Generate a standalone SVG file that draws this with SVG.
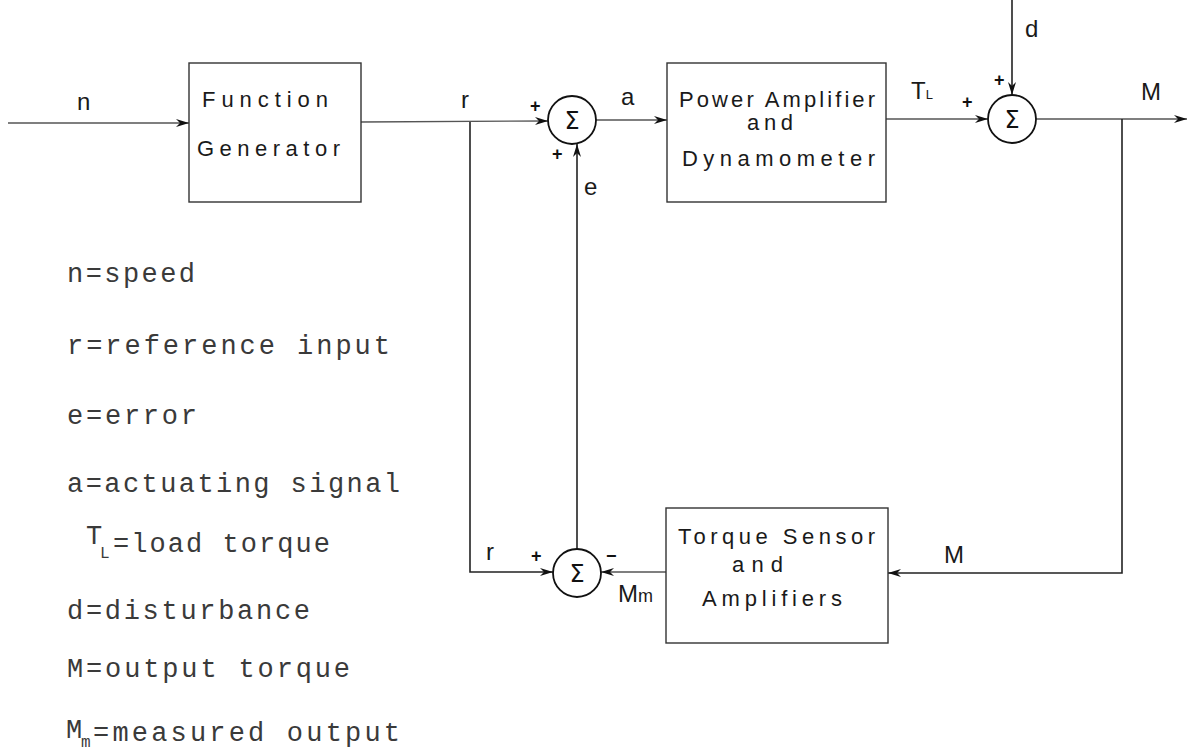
<svg xmlns="http://www.w3.org/2000/svg" width="1189" height="755" viewBox="0 0 1189 755">
  <style>
    .box { fill: none; stroke: #333; stroke-width: 1.4; }
    .sum { fill: none; stroke: #111; stroke-width: 1.8; }
    .wire { fill: none; stroke: #555; stroke-width: 1.3; }
    .vwire { fill: none; stroke: #222; stroke-width: 1.6; }
    .hand { font-family: "Liberation Sans", "DejaVu Sans", sans-serif; font-size: 22px; fill: #1a1a1a; }
    .sig { font-family: "Liberation Sans", "DejaVu Sans", sans-serif; font-size: 24px; fill: #1a1a1a; }
    .pm { font-family: "Liberation Sans", sans-serif; font-size: 18px; fill: #111; font-weight: bold; }
    .sigma { font-family: "DejaVu Sans", sans-serif; font-size: 24px; fill: #111; text-anchor: middle; }
    .legend { font-family: "Liberation Mono", "DejaVu Sans Mono", monospace; font-size: 27px; fill: #3a3a3a; }
    .legsub { font-family: "Liberation Mono", "DejaVu Sans Mono", monospace; font-size: 16px; fill: #3a3a3a; }
  </style>
  <defs>
    <marker id="arrow" markerWidth="14" markerHeight="10" refX="13" refY="5" orient="auto" markerUnits="userSpaceOnUse">
      <path d="M0,1 L13,5 L0,9 L4,5 z" fill="#111"/>
    </marker>
  </defs>

  <rect width="1189" height="755" fill="#ffffff"/>

  <!-- connectors -->
  <g id="connectors">
    <line class="wire" x1="8" y1="123" x2="189" y2="123" marker-end="url(#arrow)"/>
    <line class="wire" x1="361" y1="122" x2="548" y2="121" marker-end="url(#arrow)"/>
    <polyline class="vwire" points="470,122 470,572 553,572" marker-end="url(#arrow)"/>
    <line class="vwire" x1="577" y1="550" x2="577" y2="144" marker-end="url(#arrow)"/>
    <line class="wire" x1="596" y1="120" x2="667" y2="120" marker-end="url(#arrow)"/>
    <line class="wire" x1="886" y1="119" x2="988" y2="119" marker-end="url(#arrow)"/>
    <line class="vwire" x1="1012" y1="0" x2="1012" y2="95" marker-end="url(#arrow)"/>
    <line class="wire" x1="1036" y1="119" x2="1187" y2="119" marker-end="url(#arrow)"/>
    <polyline class="vwire" points="1122,119 1122,573 888,573" marker-end="url(#arrow)"/>
    <line class="wire" x1="666" y1="572" x2="601" y2="572" marker-end="url(#arrow)"/>
  </g>

  <!-- signal labels -->
  <g id="signal-labels">
    <text class="sig" x="77" y="110">n</text>
    <text class="sig" x="461" y="108">r</text>
    <text class="sig" x="621" y="105">a</text>
    <text class="sig" x="584" y="195">e</text>
    <text class="sig" x="911" y="99">T<tspan font-size="13">L</tspan></text>
    <text class="sig" x="1025" y="37">d</text>
    <text class="sig" x="1141" y="100">M</text>
    <text class="sig" x="944" y="563">M</text>
    <text class="sig" x="486" y="560">r</text>
    <text class="sig" x="618" y="602">M<tspan font-size="18">m</tspan></text>
  </g>

  <!-- function generator -->
  <g id="function-generator">
    <rect class="box" x="189" y="63" width="172" height="139"/>
    <text class="hand" x="202" y="107" textLength="126" lengthAdjust="spacing">Function</text>
    <text class="hand" x="197" y="156" textLength="143" lengthAdjust="spacing">Generator</text>
  </g>

  <!-- summing junction 1 -->
  <g id="sum1">
    <circle class="sum" cx="572" cy="120" r="24"/>
    <text class="sigma" x="572" y="129">Σ</text>
    <text class="pm" x="530" y="112">+</text>
    <text class="pm" x="552" y="160">+</text>
  </g>

  <!-- power amplifier and dynamometer -->
  <g id="power-amplifier">
    <rect class="box" x="667" y="63" width="219" height="139"/>
    <text class="hand" x="679" y="107" textLength="196" lengthAdjust="spacing">Power Amplifier</text>
    <text class="hand" x="747" y="130" textLength="46" lengthAdjust="spacing">and</text>
    <text class="hand" x="682" y="166" textLength="193" lengthAdjust="spacing">Dynamometer</text>
  </g>

  <!-- summing junction 2 -->
  <g id="sum2">
    <circle class="sum" cx="1012" cy="119" r="24"/>
    <text class="sigma" x="1012" y="128">Σ</text>
    <text class="pm" x="962" y="108">+</text>
    <text class="pm" x="994" y="86" font-size="13">+</text>
  </g>

  <!-- torque sensor and amplifiers -->
  <g id="torque-sensor">
    <rect class="box" x="666" y="508" width="222" height="135"/>
    <text class="hand" x="678" y="544" textLength="197" lengthAdjust="spacing">Torque Sensor</text>
    <text class="hand" x="732" y="572" textLength="51" lengthAdjust="spacing">and</text>
    <text class="hand" x="702" y="606" textLength="140" lengthAdjust="spacing">Amplifiers</text>
  </g>

  <!-- summing junction 3 -->
  <g id="sum3">
    <circle class="sum" cx="577" cy="573" r="24"/>
    <text class="sigma" x="577" y="582">Σ</text>
    <text class="pm" x="531" y="562">+</text>
    <text class="pm" x="606" y="562">−</text>
  </g>

  <!-- legend -->
  <g id="legend">
    <text class="legend" x="67" y="282" textLength="128" lengthAdjust="spacing">n=speed</text>
    <text class="legend" x="67" y="354" textLength="323" lengthAdjust="spacing">r=reference input</text>
    <text class="legend" x="67" y="424" textLength="130" lengthAdjust="spacing">e=error</text>
    <text class="legend" x="67" y="492" textLength="333" lengthAdjust="spacing">a=actuating signal</text>
    <text class="legend" x="86" y="544" font-size="20">T</text>
    <text class="legsub" x="100" y="558">L</text>
    <text class="legend" x="113" y="552" textLength="217" lengthAdjust="spacing">=load torque</text>
    <text class="legend" x="67" y="619" textLength="243" lengthAdjust="spacing">d=disturbance</text>
    <text class="legend" x="67" y="677" textLength="283" lengthAdjust="spacing">M=output torque</text>
    <text class="legend" x="66" y="738" font-size="24">M</text>
    <text class="legsub" x="81" y="747">m</text>
    <text class="legend" x="93" y="741" textLength="307" lengthAdjust="spacing">=measured output</text>
  </g>
</svg>
